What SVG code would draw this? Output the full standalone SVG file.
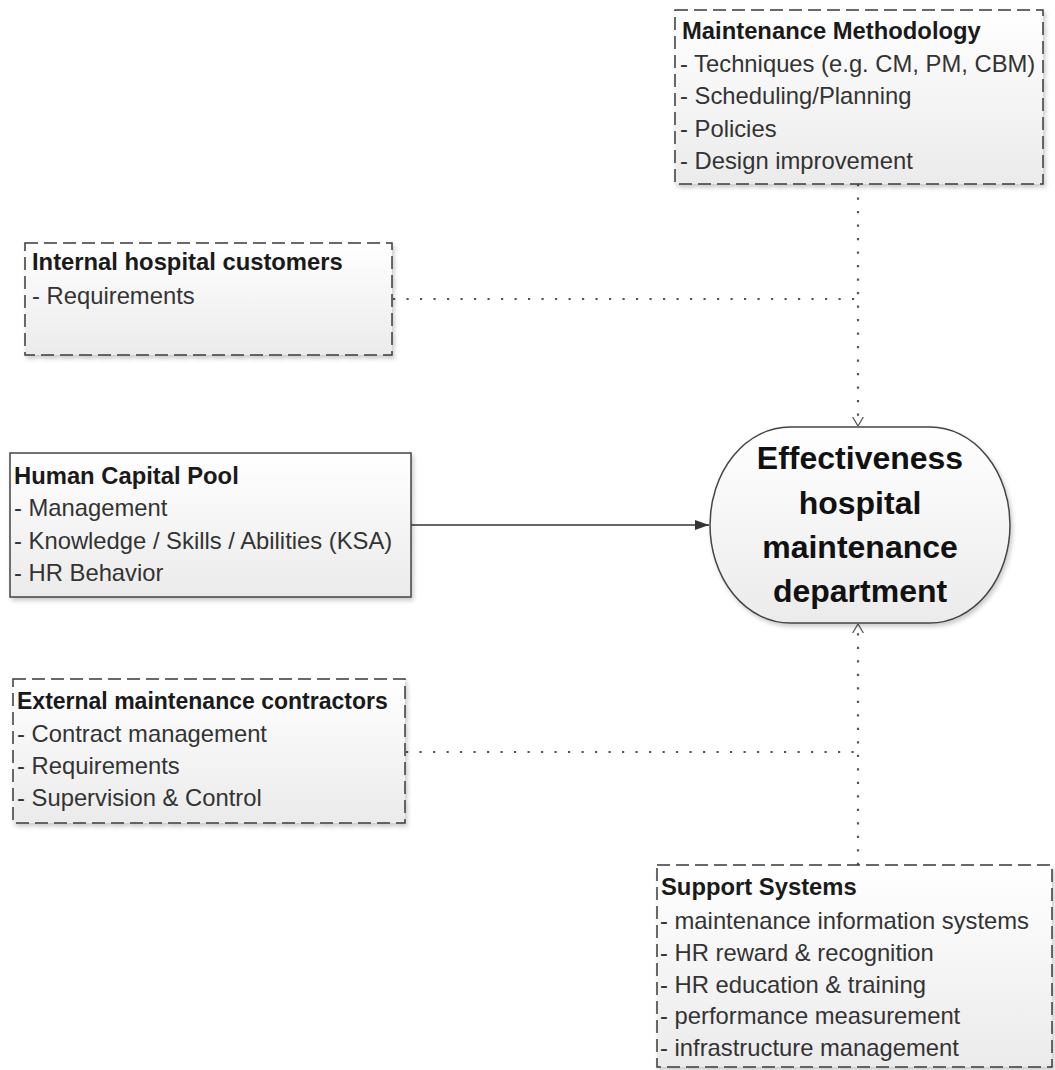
<svg xmlns="http://www.w3.org/2000/svg" width="1055" height="1070" viewBox="0 0 1055 1070">
<defs>
<linearGradient id="g" x1="0" y1="0" x2="0" y2="1">
<stop offset="0" stop-color="#ffffff"/>
<stop offset="1" stop-color="#ebebeb"/>
</linearGradient>
<filter id="sh" x="-10%" y="-10%" width="120%" height="120%">
<feDropShadow dx="2" dy="3" stdDeviation="2" flood-color="#000" flood-opacity="0.2"/>
</filter>
<marker id="open" viewBox="0 0 10 12" refX="10" refY="6" markerWidth="9" markerHeight="12" markerUnits="userSpaceOnUse" orient="auto">
<path d="M0,0 L10,6 L0,12" fill="none" stroke="#555" stroke-width="1.4"/>
</marker>
<marker id="filled" viewBox="0 0 14 10" refX="14" refY="5" markerWidth="14" markerHeight="10" markerUnits="userSpaceOnUse" orient="auto">
<path d="M0,0 L14,5 L0,10 Z" fill="#333"/>
</marker>
</defs>
<style>
.box{fill:url(#g);filter:url(#sh)}
.dash{stroke:#3a3a3a;stroke-width:1.5;stroke-dasharray:13 6}
.solid{stroke:#444;stroke-width:1.5}
.t{font-family:"Liberation Sans",Arial,sans-serif;font-size:23.8px;fill:#333}
.b{font-weight:bold;fill:#1a1a1a}
.c{font-family:"Liberation Sans",Arial,sans-serif;font-size:32px;font-weight:bold;fill:#111;text-anchor:middle}
.dot{fill:none;stroke:#555;stroke-width:2.2;stroke-dasharray:2.2 11.3}
</style>

<g id="connectors">
<line class="dot" x1="858" y1="184" x2="858" y2="426" marker-end="url(#open)"/>
<line class="dot" x1="393" y1="299" x2="858" y2="299"/>
<line class="dot" x1="406" y1="752" x2="858" y2="752"/>
<line class="dot" x1="858" y1="865" x2="858" y2="624" marker-end="url(#open)"/>
<line x1="411" y1="525" x2="709" y2="525" stroke="#333" stroke-width="1.5" marker-end="url(#filled)"/>
</g>

<g id="maintenance-methodology">
<rect class="box dash" x="675" y="10" width="368" height="174"/>
<text class="t b" x="682" y="39">Maintenance Methodology</text>
<text class="t" x="680" y="72">- Techniques (e.g. CM, PM, CBM)</text>
<text class="t" x="680" y="104">- Scheduling/Planning</text>
<text class="t" x="680" y="137">- Policies</text>
<text class="t" x="680" y="169">- Design improvement</text>
</g>

<g id="internal-customers">
<rect class="box dash" x="25" y="243" width="367" height="112"/>
<text class="t b" x="32" y="270">Internal hospital customers</text>
<text class="t" x="32" y="304">- Requirements</text>
</g>

<g id="human-capital">
<rect class="box solid" x="10" y="453" width="401" height="144"/>
<text class="t b" x="14" y="484">Human Capital Pool</text>
<text class="t" x="14" y="516">- Management</text>
<text class="t" x="14" y="549">- Knowledge / Skills / Abilities (KSA)</text>
<text class="t" x="14" y="581">- HR Behavior</text>
</g>

<g id="effectiveness">
<path class="box" d="M790,427 H930 A80 98 0 0 1 930,623 H790 A80 98 0 0 1 790,427 Z" stroke="#444" stroke-width="1.5"/>
<text class="c" x="860" y="469">Effectiveness</text>
<text class="c" x="860" y="514">hospital</text>
<text class="c" x="860" y="558">maintenance</text>
<text class="c" x="860" y="602">department</text>
</g>

<g id="external-contractors">
<rect class="box dash" x="13" y="679" width="392" height="144"/>
<text class="t b" x="17" y="709" style="font-size:23px">External maintenance contractors</text>
<text class="t" x="17" y="742">- Contract management</text>
<text class="t" x="17" y="774">- Requirements</text>
<text class="t" x="17" y="806">- Supervision &amp; Control</text>
</g>

<g id="support-systems">
<rect class="box dash" x="657" y="865" width="395" height="202"/>
<text class="t b" x="661" y="895">Support Systems</text>
<text class="t" x="660" y="929">- maintenance information systems</text>
<text class="t" x="660" y="961">- HR reward &amp; recognition</text>
<text class="t" x="660" y="993">- HR education &amp; training</text>
<text class="t" x="660" y="1024">- performance measurement</text>
<text class="t" x="660" y="1056">- infrastructure management</text>
</g>
</svg>
